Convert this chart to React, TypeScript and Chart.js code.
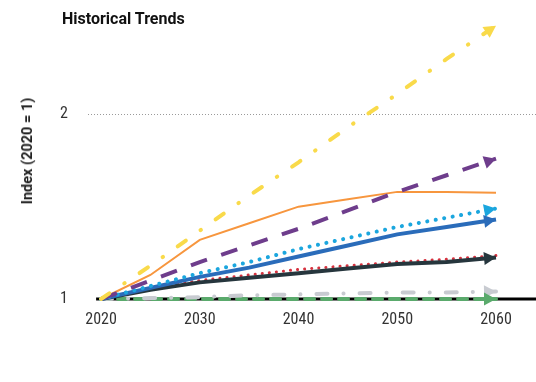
import React, { useEffect, useRef } from "react";
import { Chart, registerables } from "chart.js";

Chart.register(...registerables);

const TICK_FONT = "'Liberation Sans Narrow', 'Roboto Condensed', Roboto, sans-serif";
const TITLE_FONT = "Roboto, 'Noto Sans', sans-serif";

const TITLE = "Historical Trends";
const Y_TITLE = "Index (2020 = 1)";

const YEARS = [2020, 2025, 2030, 2035, 2040, 2045, 2050, 2055, 2060];
const X_TICKS = [2020, 2030, 2040, 2050, 2060];
const Y_TICKS = [1, 2];
const BASELINE_X = [2019.5, 2064.1];

const YELLOW = [1, 1.18, 1.37, 1.56, 1.74, 1.93, 2.11, 2.3, 2.48];
const ORANGE = [1, 1.13, 1.32, 1.41, 1.5, 1.54, 1.58, 1.58, 1.575];
const PURPLE = [1, 1.1, 1.2, 1.29, 1.38, 1.48, 1.58, 1.67, 1.76];
const LIGHT_BLUE = [1, 1.07, 1.14, 1.2, 1.27, 1.33, 1.39, 1.44, 1.49];
const BLUE = [1, 1.06, 1.12, 1.17, 1.23, 1.29, 1.35, 1.39, 1.43];
const RED = [1, 1.055, 1.1, 1.13, 1.16, 1.18, 1.2, 1.215, 1.235];
const SLATE = [1, 1.05, 1.09, 1.115, 1.14, 1.165, 1.19, 1.2, 1.225];
const GRAY = [1, 1.005, 1.01, 1.02, 1.025, 1.03, 1.035, 1.035, 1.04];
const GREEN = [1, 1, 1, 1, 1, 1, 1, 1, 1];

const pts = (vals: number[]) => YEARS.map((x, i) => ({ x, y: vals[i] }));

const arrowPlugin = {
  id: "arrowHeads",
  afterDatasetsDraw(chart: any) {
    const ctx = chart.ctx;
    chart.data.datasets.forEach((ds: any, i: number) => {
      if (!ds.arrow) return;
      const meta = chart.getDatasetMeta(i);
      const els = meta.data;
      if (els.length < 2) return;
      const a = els[els.length - 2];
      const b = els[els.length - 1];
      const ang = Math.atan2(b.y - a.y, b.x - a.x);
      const c = Math.cos(ang);
      const s = Math.sin(ang);
      const L = 12;
      const W = 6.5;
      ctx.save();
      ctx.fillStyle = ds.borderColor;
      ctx.beginPath();
      ctx.moveTo(b.x, b.y);
      ctx.lineTo(b.x - L * c + W * s, b.y - L * s - W * c);
      ctx.lineTo(b.x - L * c - W * s, b.y - L * s + W * c);
      ctx.closePath();
      ctx.fill();
      ctx.restore();
    });
  },
};

export default function App() {
  const ref = useRef<HTMLCanvasElement | null>(null);

  useEffect(() => {
    document.body.style.margin = "0";
    const canvas = ref.current;
    if (!canvas) return;
    const base = {
      pointRadius: 0,
      pointHoverRadius: 0,
      tension: 0,
      clip: false as any,
      fill: false,
    };
    const chart = new Chart(canvas, {
      type: "line",
      data: {
        datasets: [
          { ...base, data: pts(YELLOW), borderColor: "#f9da4a", borderWidth: 4, borderDash: [10, 18, 0.5, 18], borderCapStyle: "round", arrow: true } as any,
          { ...base, data: pts(PURPLE), borderColor: "#6e3d8c", borderWidth: 4, borderDash: [17, 15], arrow: true } as any,
          { ...base, data: pts(ORANGE), borderColor: "#f7963e", borderWidth: 2 } as any,
          { ...base, data: pts(LIGHT_BLUE), borderColor: "#1ba6de", borderWidth: 4, borderDash: [0.1, 8.5], borderCapStyle: "round", arrow: true } as any,
          { ...base, data: pts(BLUE), borderColor: "#2a6cba", borderWidth: 4, arrow: true } as any,
          { ...base, data: pts(SLATE), borderColor: "#26363d", borderWidth: 4, arrow: true } as any,
          { ...base, data: pts(RED), borderColor: "#d6323f", borderWidth: 3, borderDash: [0.1, 7], borderCapStyle: "round" } as any,
          { ...base, data: pts(GRAY), borderColor: "#c8cbd1", borderWidth: 4, borderDash: [11, 16, 0.1, 16], borderCapStyle: "round", arrow: true } as any,
          { ...base, data: pts(GREEN), borderColor: "#5aaa6c", borderWidth: 4, borderDash: [9, 8], borderCapStyle: "round", arrow: true } as any,
          { ...base, data: BASELINE_X.map((x) => ({ x, y: 1 })), borderColor: "#000000", borderWidth: 3 } as any,
        ],
      },
      options: {
        animation: false,
        responsive: false,
        events: [],
        layout: { padding: { top: 12, right: 0, bottom: 53, left: 0 } },
        plugins: {
          legend: { display: false },
          tooltip: { enabled: false },
          title: { display: false },
        },
        scales: {
          x: {
            type: "linear",
            min: 2018.68,
            max: 2064.05,
            afterBuildTicks: (s: any) => {
              s.ticks = X_TICKS.map((v) => ({ value: v }));
            },
            afterFit: (s: any) => {
              s.height = 30;
            },
            ticks: {
              callback: (v: any) => String(v),
              color: "#333333",
              font: { family: TICK_FONT, size: 16 },
              padding: 11,
              maxRotation: 0,
              autoSkip: false,
            },
            grid: { display: false, drawTicks: false },
            border: { display: false },
          },
          y: {
            type: "linear",
            min: 1,
            max: 2.4586,
            afterBuildTicks: (s: any) => {
              s.ticks = Y_TICKS.map((v) => ({ value: v }));
            },
            afterFit: (s: any) => {
              s.width = 88;
            },
            ticks: {
              callback: (v: any) => String(v),
              color: "#333333",
              font: { family: TICK_FONT, size: 16 },
              padding: 20,
            },
            grid: {
              drawTicks: false,
              lineWidth: 1,
              color: (ctx: any) => (ctx.tick && ctx.tick.value === 2 ? "#9a9a9a" : "rgba(0,0,0,0)"),
            },
            border: { display: false, dash: [1, 2] },
            title: { display: false },
          },
        },
      },
      plugins: [arrowPlugin],
    } as any);
    return () => chart.destroy();
  }, []);

  return (
    <div style={{ position: "relative", width: 536, height: 382 }}>
      <canvas ref={ref} width={536} height={382} style={{ display: "block" }} />
      <div
        style={{
          position: "absolute",
          left: 62,
          top: 10,
          fontFamily: TITLE_FONT,
          fontWeight: "bold",
          fontSize: 16,
          lineHeight: "18px",
          color: "#111111",
          whiteSpace: "nowrap",
        }}
      >
        {TITLE}
      </div>
      <div
        style={{
          position: "absolute",
          left: 28,
          top: 151,
          transform: "translate(-50%, -50%) rotate(-90deg)",
          fontFamily: TITLE_FONT,
          fontWeight: "bold",
          fontSize: 14.5,
          lineHeight: "16px",
          color: "#222222",
          whiteSpace: "nowrap",
        }}
      >
        {Y_TITLE}
      </div>
    </div>
  );
}
